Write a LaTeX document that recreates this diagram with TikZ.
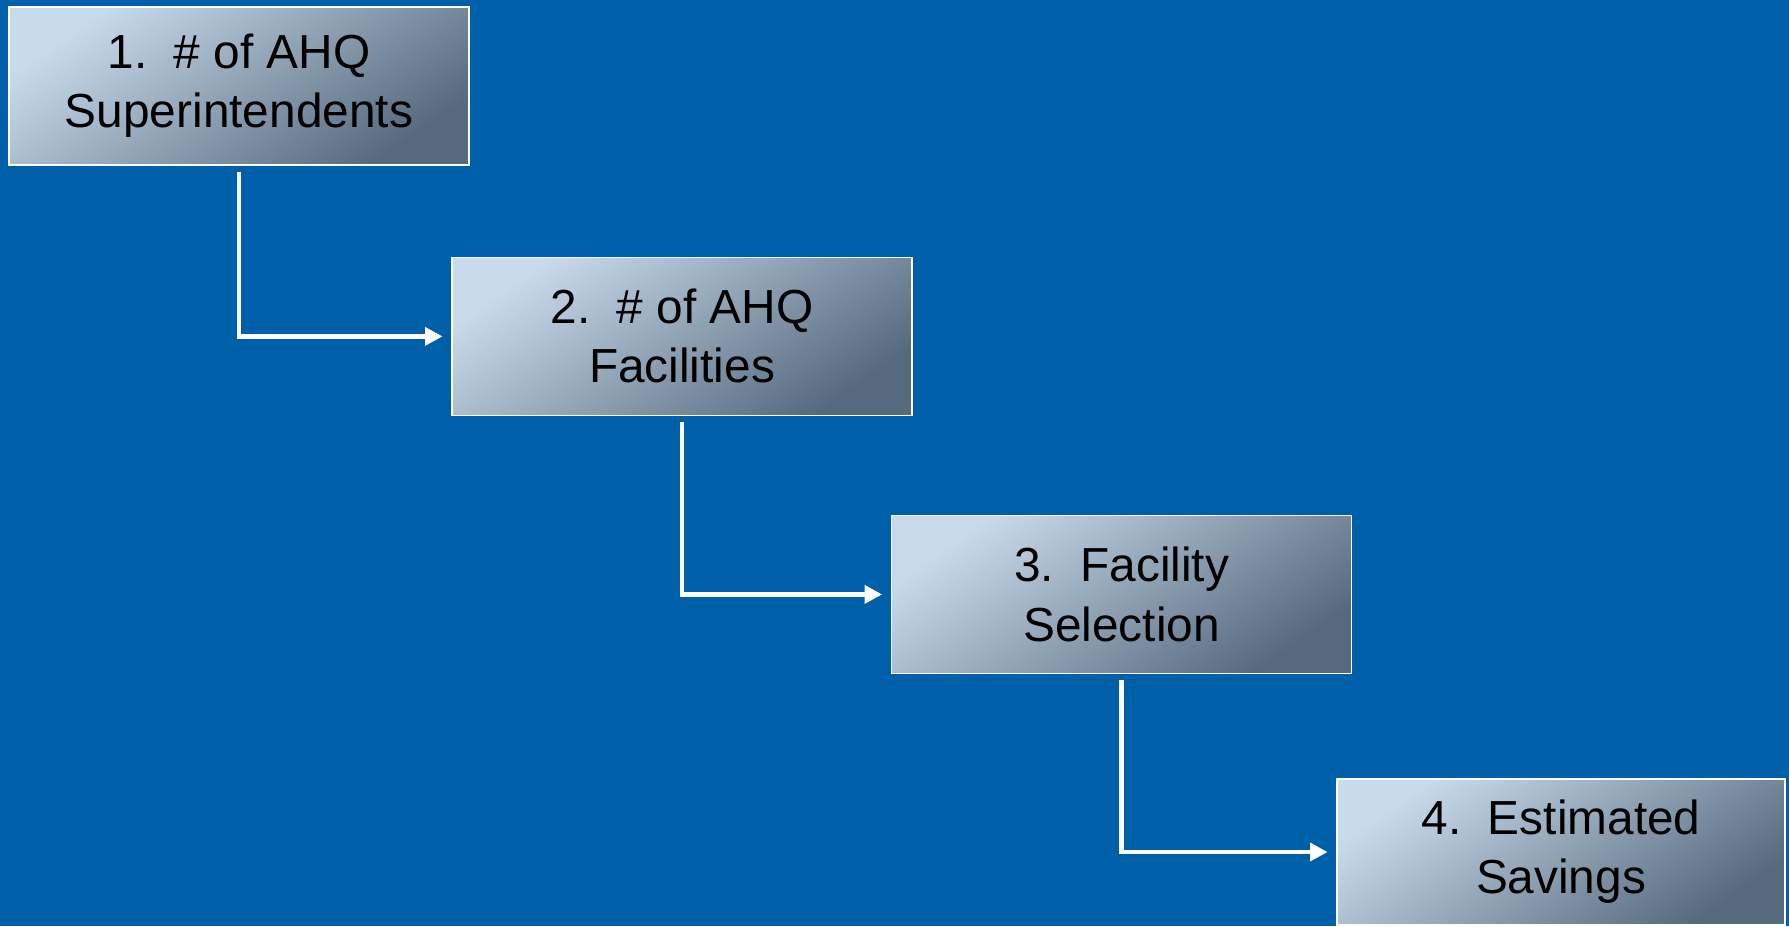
\documentclass[tikz,border=0pt]{standalone}
\usepackage{fontspec}
\setmainfont{Liberation Sans}
\usepackage{tikz}
\usetikzlibrary{arrows.meta,positioning,calc}

\definecolor{bgblue}{HTML}{005FA9}
\definecolor{boxlight}{HTML}{C9DBEB}
\definecolor{boxdark}{HTML}{566A7E}

\begin{document}
\begin{tikzpicture}[
  stepbox/.style={rectangle, draw=white, line width=0.8pt, minimum width=11.5cm, minimum height=3.95cm,
    align=center, shading=axis, top color=boxlight, bottom color=boxdark, shading angle=35,
    font=\fontsize{34}{42}\selectfont},
  flow/.style={-{Triangle[length=0.44cm, width=0.44cm]}, draw=white, line width=3.2pt,
    shorten <=0.15cm, shorten >=0.22cm}
]

% Background
\useasboundingbox (0,0) rectangle (44.725,-23.15);
\fill[bgblue] (0,0) rectangle (44.725,-23.15);

% Steps
\node[stepbox] (superint) at (5.975,-2.15) {1.\ \ \# of AHQ\\Superintendents};
\node[stepbox] (facil) at (17.05,-8.41) {2.\ \ \# of AHQ\\Facilities};
\node[stepbox] (select) at (28.04,-14.86) {3.\ \ Facility\\Selection};
\node[stepbox, minimum width=11.2cm, minimum height=3.65cm] (savings) at (39.025,-21.3) {4.\ \ Estimated\\Savings};

% Connectors
\foreach \a/\b in {superint/facil, facil/select, select/savings} {
  \draw[flow] (\a.south) |- (\b.west);
}

\end{tikzpicture}
\end{document}
